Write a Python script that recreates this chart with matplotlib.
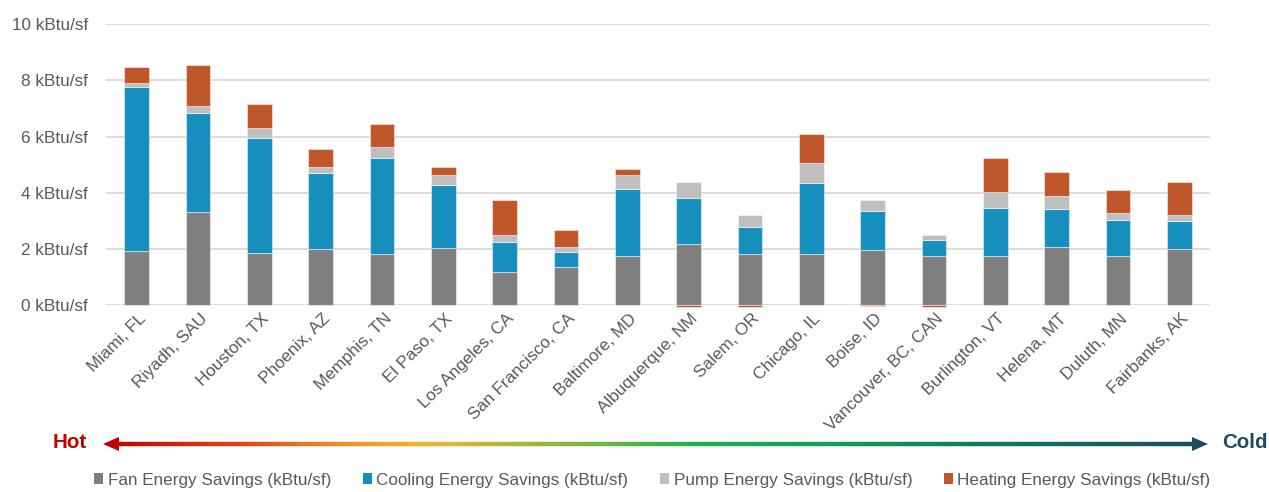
import numpy as np
import matplotlib
matplotlib.use("Agg")
import matplotlib.pyplot as plt
import matplotlib.font_manager as fm
import matplotlib.transforms as mtrans
from matplotlib.collections import LineCollection
from matplotlib.colors import LinearSegmentedColormap
from matplotlib.patches import Polygon

# data (kBtu/sf)
cities = ['Miami, FL', 'Riyadh, SAU', 'Houston, TX', 'Phoenix, AZ', 'Memphis, TN',
          'El Paso, TX', 'Los Angeles, CA', 'San Francisco, CA', 'Baltimore, MD',
          'Albuquerque, NM', 'Salem, OR', 'Chicago, IL', 'Boise, ID',
          'Vancouver, BC, CAN', 'Burlington, VT', 'Helena, MT', 'Duluth, MN', 'Fairbanks, AK']
fan = [1.92, 3.31, 1.85, 2.00, 1.81, 2.05, 1.17, 1.35, 1.74,
       2.17, 1.81, 1.82, 1.98, 1.75, 1.77, 2.07, 1.75, 1.99]
cooling = [5.84, 3.54, 4.08, 2.72, 3.44, 2.21, 1.09, 0.55, 2.39,
           1.66, 0.99, 2.54, 1.36, 0.58, 1.70, 1.37, 1.29, 0.99]
pump = [0.13, 0.22, 0.37, 0.18, 0.39, 0.38, 0.24, 0.16, 0.51,
        0.56, 0.42, 0.70, 0.41, 0.16, 0.54, 0.45, 0.24, 0.22]
heating = [0.57, 1.47, 0.85, 0.65, 0.82, 0.26, 1.26, 0.62, 0.21,
           -0.07, -0.06, 1.02, -0.02, -0.06, 1.21, 0.84, 0.81, 1.18]

series = ['Fan Energy Savings (kBtu/sf)', 'Cooling Energy Savings (kBtu/sf)',
          'Pump Energy Savings (kBtu/sf)', 'Heating Energy Savings (kBtu/sf)']
colors = ['#7F7F7F', '#168FBF', '#BFBFBF', '#C0572A']

# narrow font if it exists, otherwise regular with smaller size
names = {f.name for f in fm.fontManager.ttflist}
if 'Liberation Sans Narrow' in names:
    plt.rcParams['font.family'] = 'Liberation Sans Narrow'
    k = 1.0
else:
    plt.rcParams['font.family'] = 'Liberation Sans'
    k = 0.82
fs = 15 * k
txt = '#595959'

fig = plt.figure(figsize=(12.69, 4.92), dpi=100)
ax = fig.add_axes([106 / 1269, 1 - 305.3 / 492, 1104 / 1269, 281.3 / 492])

x = np.arange(len(cities))
w = 0.40
edge = (1, 1, 1, 0.45)
bottom = np.zeros(len(cities))
for vals, lab, c in zip([fan, cooling, pump, heating], series, colors):
    v = np.array(vals)
    b = np.where(v >= 0, bottom, 0)
    ax.bar(x, v, w, bottom=b, color=c, label=lab, edgecolor=edge, linewidth=0.8,
           zorder=3, clip_on=False)
    bottom = bottom + np.where(v >= 0, v, 0)

ax.set_xlim(-0.5, len(cities) - 0.5)
ax.set_ylim(0, 10)
ax.set_yticks(range(0, 11, 2))
ax.set_yticklabels([f'{v} kBtu/sf' for v in range(0, 11, 2)])
ax.grid(axis='y', color='#D9D9D9', linewidth=1.3, zorder=0)
for s in ax.spines.values():
    s.set_visible(False)
ax.tick_params(axis='y', length=0, pad=13, labelsize=fs, labelcolor=txt)
ax.set_xticks(x)
ax.set_xticklabels(cities, rotation=45, ha='right', va='center', rotation_mode='anchor')
ax.tick_params(axis='x', length=0, pad=8, labelsize=fs, labelcolor=txt)
shift = mtrans.ScaledTranslation(7 / 100, 0, fig.dpi_scale_trans)
for lbl in ax.get_xticklabels():
    lbl.set_transform(lbl.get_transform() + shift)

# Hot -> Cold gradient arrow
ov = fig.add_axes([0, 0, 1, 1], zorder=5)
ov.set_xlim(0, 1269)
ov.set_ylim(492, 0)
ov.axis('off')
stops = [(0.0, '#C00000'), (0.13, '#DD4A1C'), (0.205, '#EE8A22'), (0.287, '#F5B52B'),
         (0.36, '#B9B734'), (0.45, '#6DB546'), (0.54, '#1DB04F'), (0.676, '#0E9C57'),
         (0.767, '#0E835B'), (0.90, '#16605F'), (1.0, '#1A4D5E')]
cmap = LinearSegmentedColormap.from_list('hotcold', stops)
x0, x1, ya = 103, 1208, 444
xs = np.linspace(x0 + 12, x1 - 12, 400)
segs = [[(xs[i], ya), (xs[i + 1], ya)] for i in range(len(xs) - 1)]
lc = LineCollection(segs, colors=cmap((xs[:-1] - x0) / (x1 - x0)), linewidth=3.2)
ov.add_collection(lc)
ov.add_patch(Polygon([(x0, ya), (x0 + 16, ya - 7), (x0 + 16, ya + 7)], closed=True,
                     color=cmap(0.0), lw=0))
ov.add_patch(Polygon([(x1, ya), (x1 - 16, ya - 7), (x1 - 16, ya + 7)], closed=True,
                     color=cmap(1.0), lw=0))
ov.text(87, ya - 1, 'Hot', ha='right', va='center', fontsize=18 * k,
        fontweight='bold', color='#C00000')
ov.text(1222, ya - 1, 'Cold', ha='left', va='center', fontsize=18 * k,
        fontweight='bold', color='#1A4D5E')

leg = fig.legend(loc='center', bbox_to_anchor=(0.514, 1 - 480 / 492), ncol=4,
                 frameon=False, fontsize=fs, handlelength=0.55, handleheight=0.55,
                 handletextpad=0.25, columnspacing=1.85, labelcolor=txt)
for h in leg.legend_handles:
    h.set_edgecolor('none')

fig.savefig('out.png', dpi=100)
